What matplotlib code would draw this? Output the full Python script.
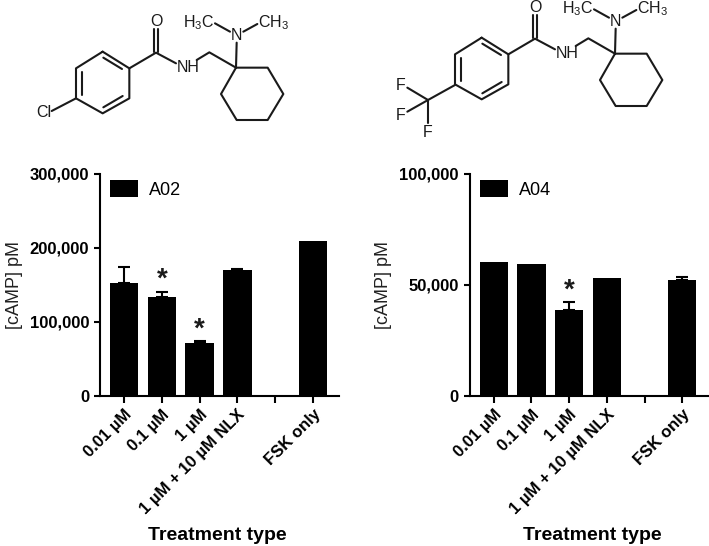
import numpy as np
import matplotlib
matplotlib.use("Agg")
import matplotlib.pyplot as plt
from matplotlib.patches import Patch

plt.rcParams['font.family'] = ['Liberation Sans', 'DejaVu Sans']
plt.rcParams['mathtext.fontset'] = 'custom'
plt.rcParams['mathtext.rm'] = 'Liberation Sans'
plt.rcParams['mathtext.default'] = 'regular'

categories = ["0.01 µM", "0.1 µM", "1 µM", "1 µM + 10 µM NLX", "", "FSK only"]

a02Values = [152000, 133500, 70800, 169600, np.nan, 208900]
a02Errors = [22000, 6800, 3200, 2300, 0, 0]
a02Stars = [(1, 163300), (2, 95600)]
a02Ticks = [0, 100000, 200000, 300000]

a04Values = [60150, 59250, 38800, 52900, np.nan, 52300]
a04Errors = [0, 0, 3600, 0, 0, 1200]
a04Stars = [(2, 49500)]
a04Ticks = [0, 50000, 100000]

W, H = 709, 546

# molecule pieces, in units of the 3x crop of the reference
ringBonds = [[(308,155),(388,205),(388,295),(308,340),(228,295),(228,205),(308,155)],
             [(310,173),(366,207)], [(245,216),(245,285)], [(310,322),(368,288)],
             [(388,205),(468,158),(528,190)],
             [(462,156),(462,88)], [(475,156),(475,88)],
             [(590,180),(628,157),(708,203)],
             [(708,203),(803,203),(850,282),(803,360),(710,360),(663,282),(708,203)],
             [(708,203),(710,128)], [(690,95),(645,70)], [(730,95),(772,72)]]
ringLabels = [("O",468,66,"center"), ("NH",566,203,"center"), ("N",710,107,"center"),
              ("H$_3$C",644,68,"right"), ("CH$_3$",775,68,"left")]
clBonds = [[(228,295),(155,333)]]
clLabels = [("Cl",131,338,"center")]
cf3Bonds = [[(228,297),(147,342)], [(147,342),(85,305)], [(147,342),(85,377)], [(147,342),(147,412)]]
cf3Labels = [("F",66,300,"center"), ("F",65,387,"center"), ("F",147,440,"center")]


def drawMolecule(ax, bonds, labels, dx, dy):
    for b in bonds:
        pts = np.array(b) / 3
        ax.plot(pts[:,0] + dx, pts[:,1] + dy, color="#1a1a1a", lw=1.5, solid_capstyle="round")
    for s, x, y, ha in labels:
        ax.text(x / 3 + dx, y / 3 + dy, s, fontsize=11.5, ha=ha, va="center", color="#1a1a1a")


def drawChart(left, right, firstTick, spacing, values, errors, stars, ticks, legendName, labelX):
    top, bottom = 174, 395.7
    ax = fig.add_axes([left / W, 1 - bottom / H, (right - left) / W, (bottom - top) / H])
    x = np.arange(len(categories))
    vals = np.array(values)
    errs = np.array(errors)
    ax.bar(x, vals, width=0.75, color="black", label=legendName)
    hasErr = errs > 0
    ax.errorbar(x[hasErr], vals[hasErr], yerr=[np.zeros(hasErr.sum()), errs[hasErr]], fmt="none",
                ecolor="black", elinewidth=1.5, capsize=4.3, capthick=1.5)
    for sx, sy in stars:
        ax.annotate("*", (sx, sy), xytext=(0, -3.2), textcoords="offset points", fontsize=20,
                    fontweight="bold", ha="center", va="center", color="#1a1a1a")
    ax.set_xlim((left - firstTick) / spacing, (right - firstTick) / spacing)
    ax.set_ylim(0, ticks[-1])
    ax.set_yticks(ticks)
    ax.set_yticklabels([f"{t:,}" for t in ticks], fontsize=12, fontweight="bold")
    ax.set_xticks(x)
    ax.set_xticklabels(categories, fontsize=12, fontweight="bold", rotation=45, ha="right",
                       rotation_mode="anchor")
    ax.spines["top"].set_visible(False)
    ax.spines["right"].set_visible(False)
    ax.spines["left"].set_linewidth(1.5)
    ax.spines["bottom"].set_linewidth(1.5)
    ax.tick_params(axis="y", width=1.5, length=4.3, pad=3.5)
    ax.tick_params(axis="x", width=1.5, length=5, pad=3)
    ax.set_ylabel("[cAMP] pM", fontsize=13, color="#222222", labelpad=5)
    ax.text(labelX, 536, "Treatment type", fontsize=14, fontweight="bold", ha="center", va="center",
            transform=overlay.transData)
    ax.legend(handles=[Patch(facecolor="black", label=legendName)], loc="upper left",
              bbox_to_anchor=(0.028, 0.99), frameon=False, fontsize=13, handlelength=1.55,
              handleheight=1.1, handletextpad=0.6, borderaxespad=0, borderpad=0.2)
    return ax


fig = plt.figure(figsize=(W / 100, H / 100), dpi=100)
overlay = fig.add_axes([0, 0, 1, 1])
overlay.set_xlim(0, W)
overlay.set_ylim(H, 0)
overlay.axis("off")

drawMolecule(overlay, ringBonds + clBonds, ringLabels + clLabels, 0, 0)
drawMolecule(overlay, ringBonds + cf3Bonds, ringLabels + cf3Labels, 379, -14)

drawChart(100, 339, 124, 37.8, a02Values, a02Errors, a02Stars, a02Ticks, "A02", 217)
drawChart(469.5, 709, 493.7, 37.7, a04Values, a04Errors, a04Stars, a04Ticks, "A04", 592.5)

fig.savefig("out.png", dpi=100)
